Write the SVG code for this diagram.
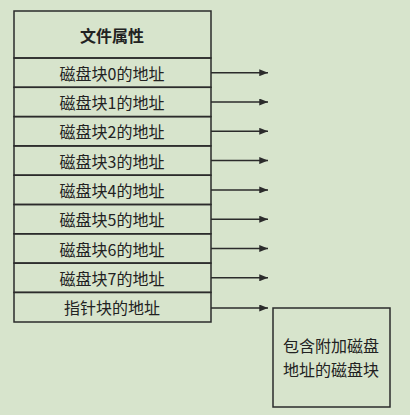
<svg xmlns="http://www.w3.org/2000/svg" width="410" height="415" viewBox="0 0 410 415">
<defs>
<marker id="ah" viewBox="0 0 10 8" refX="10" refY="4" markerWidth="10" markerHeight="7" markerUnits="userSpaceOnUse" orient="auto">
<path d="M0,0 L10,4 L0,8 Z" fill="#2b2b2b"/>
</marker>
<style>
.bx{fill:none;stroke:#2b2b2b;stroke-width:1.5}
.t{font-family:"Noto Sans CJK SC","Noto Sans",sans-serif;font-size:16px;fill:#222;text-anchor:middle;dominant-baseline:central}
.h{font-weight:bold}
.ar{stroke:#2b2b2b;stroke-width:1.5;fill:none;marker-end:url(#ah)}
</style>
</defs>
<rect width="410" height="415" fill="#d7e4cc"/>
<g id="header"><rect class="bx" x="14" y="11" width="197" height="47"/><text class="t h" x="112" y="35">文件属性</text></g>
<g id="row0"><rect class="bx" x="14" y="58" width="197" height="29.3"/><text class="t" x="112" y="72.7">磁盘块0的地址</text></g>
<g id="row1"><rect class="bx" x="14" y="87.3" width="197" height="29.3"/><text class="t" x="112" y="102">磁盘块1的地址</text></g>
<g id="row2"><rect class="bx" x="14" y="116.6" width="197" height="29.3"/><text class="t" x="112" y="131.3">磁盘块2的地址</text></g>
<g id="row3"><rect class="bx" x="14" y="145.9" width="197" height="29.3"/><text class="t" x="112" y="160.6">磁盘块3的地址</text></g>
<g id="row4"><rect class="bx" x="14" y="175.2" width="197" height="29.3"/><text class="t" x="112" y="189.9">磁盘块4的地址</text></g>
<g id="row5"><rect class="bx" x="14" y="204.5" width="197" height="29.3"/><text class="t" x="112" y="219.2">磁盘块5的地址</text></g>
<g id="row6"><rect class="bx" x="14" y="233.8" width="197" height="29.3"/><text class="t" x="112" y="248.5">磁盘块6的地址</text></g>
<g id="row7"><rect class="bx" x="14" y="263.1" width="197" height="29.3"/><text class="t" x="112" y="277.8">磁盘块7的地址</text></g>
<g id="row8"><rect class="bx" x="14" y="292.4" width="197" height="29.6"/><text class="t" x="112" y="307.2">指针块的地址</text></g>
<g id="block"><rect class="bx" x="273" y="308" width="117" height="99"/><text class="t" x="331" y="345">包含附加磁盘</text><text class="t" x="331" y="369">地址的磁盘块</text></g>
<g id="connectors">
<line class="ar" x1="211" y1="72.7" x2="268" y2="72.7"/>
<line class="ar" x1="211" y1="102" x2="268" y2="102"/>
<line class="ar" x1="211" y1="131.3" x2="268" y2="131.3"/>
<line class="ar" x1="211" y1="160.6" x2="268" y2="160.6"/>
<line class="ar" x1="211" y1="189.9" x2="268" y2="189.9"/>
<line class="ar" x1="211" y1="219.2" x2="268" y2="219.2"/>
<line class="ar" x1="211" y1="248.5" x2="268" y2="248.5"/>
<line class="ar" x1="211" y1="277.8" x2="268" y2="277.8"/>
<line class="ar" x1="211" y1="308" x2="268" y2="308"/>
</g>
</svg>
